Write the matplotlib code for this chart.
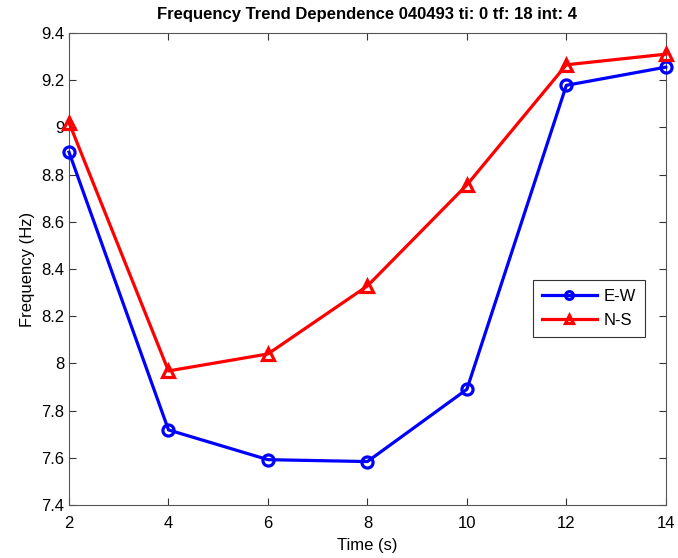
import matplotlib.pyplot as plt
import matplotlib

matplotlib.rc("font", family=["Liberation Sans", "DejaVu Sans"], size=12)

time_s = [2, 4, 6, 8, 10, 12, 14]
freq_ew = [8.895, 7.718, 7.592, 7.584, 7.890, 9.178, 9.255]
freq_ns = [9.020, 7.968, 8.040, 8.328, 8.756, 9.265, 9.310]
x_ticks = [2, 4, 6, 8, 10, 12, 14]
y_ticks = [7.4, 7.6, 7.8, 8.0, 8.2, 8.4, 8.6, 8.8, 9.0, 9.2, 9.4]
y_labels = ['7.4', '7.6', '7.8', '8', '8.2', '8.4', '8.6', '8.8', '9', '9.2', '9.4']

fig = plt.figure(figsize=(6.78, 5.58), dpi=100)
ax = fig.add_axes([0.1018, 0.095, 0.8802, 0.846])

ax.plot(time_s, freq_ew, color='#0000ff', lw=2.3, marker='o', ms=8,
        mfc='none', mew=2.3, label='E-W', clip_on=False, zorder=3)
ax.plot(time_s, freq_ns, color='#ff0000', lw=2.3, marker='^', ms=8,
        mfc='none', mew=2.3, label='N-S', clip_on=False, zorder=3)

ax.set_xlim(2, 14)
ax.set_ylim(7.4, 9.4)
ax.set_xticks(x_ticks)
ax.set_yticks(y_ticks)
ax.set_yticklabels(y_labels)
ax.tick_params(direction='in', top=True, right=True, length=5, colors='#333333',
               labelcolor='black', labelsize=12, width=0.8)
ax.tick_params(axis='x', pad=8)
for s in ax.spines.values():
    s.set_color('#555555')
    s.set_linewidth(0.8)

ax.set_xlabel('Time (s)', fontsize=12, labelpad=5)
ax.set_ylabel('Frequency (Hz)', fontsize=12, labelpad=4)
ax.set_title('Frequency Trend Dependence 040493 ti: 0 tf: 18 int: 4',
             fontsize=12, fontweight='bold', pad=10)

leg = ax.legend(loc='upper left', bbox_to_anchor=(0.777, 0.477), fancybox=False,
                edgecolor='#333333', framealpha=1, handlelength=3.3, fontsize=12,
                markerscale=0.7, borderpad=0.55, labelspacing=0.55, handletextpad=0.4,
                borderaxespad=0)
leg.get_frame().set_linewidth(0.8)

plt.savefig('out.png', dpi=100)
